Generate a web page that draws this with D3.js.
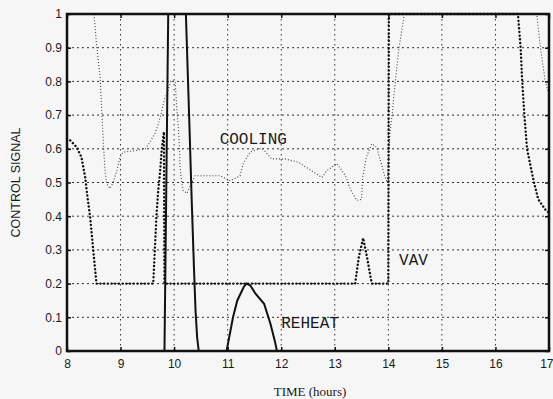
<!DOCTYPE html>
<html>
<head>
<meta charset="utf-8">
<script src="https://cdn.jsdelivr.net/npm/d3@7"></script>
<style>
  body { margin: 0; background: #f6f6f6; }
  svg { display: block; }
</style>
</head>
<body>
<div id="chart"></div>
<script>
// tick values and labels
var xTicks = [8, 9, 10, 11, 12, 13, 14, 15, 16, 17];
var yTicks = [0, 0.1, 0.2, 0.3, 0.4, 0.5, 0.6, 0.7, 0.8, 0.9, 1];
var yTickLabels = ["0", "0.1", "0.2", "0.3", "0.4", "0.5", "0.6", "0.7", "0.8", "0.9", "1"];

// REHEAT (solid line)
var reheatTime = [8, 9.82, 9.89, 10.22, 10.28, 10.33, 10.37, 10.4, 10.43, 10.46, 10.98, 11.1, 11.18, 11.3, 11.35, 11.42, 11.52, 11.68, 11.8, 11.88, 11.92, 17];
var reheatVal  = [0, 0, 1, 1, 0.7, 0.44, 0.25, 0.12, 0.04, 0, 0, 0.1, 0.15, 0.19, 0.2, 0.195, 0.17, 0.14, 0.08, 0.03, 0, 0];

// VAV (heavy dotted line)
var vavTime = [8, 8.06, 8.18, 8.27, 8.34, 8.38, 8.43, 8.49, 8.55, 9.61, 9.64, 9.67, 9.7, 9.74, 9.77, 9.81, 9.82, 13.38, 13.45, 13.53, 13.6, 13.69, 14.0, 14.01, 16.42, 16.47, 16.5, 16.54, 16.59, 16.68, 16.72, 16.8, 16.93, 17];
var vavVal  = [0.63, 0.625, 0.605, 0.575, 0.515, 0.46, 0.4, 0.3, 0.2, 0.2, 0.3, 0.4, 0.47, 0.535, 0.6, 0.65, 0.2, 0.2, 0.28, 0.335, 0.28, 0.2, 0.2, 1, 1, 0.9, 0.8, 0.7, 0.6, 0.53, 0.5, 0.45, 0.42, 0.41];

// COOLING (light dotted line)
var coolTime = [8, 8.5, 8.52, 8.55, 8.62, 8.65, 8.68, 8.71, 8.74, 8.8, 8.86, 8.93, 8.99, 9.05, 9.3, 9.46, 9.55, 9.64, 9.71, 9.77, 9.81, 9.94, 10.02, 10.05, 10.08, 10.1, 10.11, 10.14, 10.17, 10.24, 10.39, 10.86, 11.05, 11.23, 11.29, 11.42, 11.6, 11.66, 11.82, 12.07, 12.32, 12.76, 12.85, 13.04, 13.2, 13.29, 13.41, 13.5, 13.52, 13.59, 13.69, 13.78, 13.87, 13.93, 13.98, 14.0, 14.03, 14.07, 14.13, 14.2, 14.3, 16.77, 16.84, 16.93, 17];
var coolVal  = [1, 1, 0.97, 0.91, 0.81, 0.71, 0.615, 0.535, 0.497, 0.482, 0.5, 0.535, 0.575, 0.59, 0.595, 0.6, 0.62, 0.645, 0.675, 0.713, 0.74, 0.8, 0.8, 0.72, 0.66, 0.6, 0.545, 0.505, 0.476, 0.468, 0.52, 0.52, 0.505, 0.52, 0.556, 0.59, 0.6, 0.6, 0.57, 0.57, 0.56, 0.515, 0.535, 0.556, 0.52, 0.48, 0.447, 0.45, 0.515, 0.575, 0.615, 0.605, 0.555, 0.52, 0.5, 0.55, 0.65, 0.7, 0.8, 0.9, 1, 1, 0.9, 0.8, 0.76];

var W = 553, H = 399;
var margin = {top: 14, right: 4, bottom: 48, left: 67};
var width = W - margin.left - margin.right;
var height = H - margin.top - margin.bottom;

var x = d3.scaleLinear().domain([8, 17]).range([0, width]);
var y = d3.scaleLinear().domain([0, 1]).range([height, 0]);

function pairs(t, v) {
	return t.map(function (d, i) { return [d, v[i]]; });
}

var line = d3.line()
	.x(function (d) { return x(d[0]); })
	.y(function (d) { return y(d[1]); });

var svg = d3.select("#chart")
	.append("svg")
	.attr("width", W)
	.attr("height", H);

svg.append("rect")
	.attr("width", W)
	.attr("height", H)
	.attr("fill", "#f6f6f6");

var g = svg.append("g")
	.attr("transform", "translate(" + margin.left + "," + margin.top + ")");

// dotted grid
g.append("g")
	.selectAll("line")
	.data(yTicks.slice(1, -1))
	.enter().append("line")
	.attr("x1", 0).attr("x2", width)
	.attr("y1", function (d) { return y(d); })
	.attr("y2", function (d) { return y(d); })
	.attr("stroke", "#333")
	.attr("stroke-width", 1)
	.attr("stroke-dasharray", "2,3");

g.append("g")
	.selectAll("line")
	.data(xTicks.slice(1, -1))
	.enter().append("line")
	.attr("y1", 0).attr("y2", height)
	.attr("x1", function (d) { return x(d); })
	.attr("x2", function (d) { return x(d); })
	.attr("stroke", "#333")
	.attr("stroke-width", 1)
	.attr("stroke-dasharray", "1.5,3.5");

// series
g.append("path")
	.attr("d", line(pairs(coolTime, coolVal)))
	.attr("fill", "none")
	.attr("stroke", "#444")
	.attr("stroke-width", 1.1)
	.attr("stroke-dasharray", "1,2");

g.append("path")
	.attr("d", line(pairs(vavTime, vavVal)))
	.attr("fill", "none")
	.attr("stroke", "#111")
	.attr("stroke-width", 2.4)
	.attr("stroke-linecap", "round")
	.attr("stroke-dasharray", "0.1,3.6");

g.append("path")
	.attr("d", line(pairs(reheatTime, reheatVal)))
	.attr("fill", "none")
	.attr("stroke", "#111")
	.attr("stroke-width", 2);

// axes with inward ticks
var xAxis = d3.axisBottom(x).tickValues(xTicks).tickSizeInner(-4).tickSizeOuter(0).tickPadding(8)
	.tickFormat(d3.format("d"));
var yAxis = d3.axisLeft(y).tickValues(yTicks).tickSizeInner(-4).tickSizeOuter(0).tickPadding(5)
	.tickFormat(function (d, i) { return yTickLabels[i]; });

var gx = g.append("g")
	.attr("transform", "translate(0," + height + ")")
	.call(xAxis);
var gy = g.append("g").call(yAxis);

// last x label sits against the right edge
gx.selectAll(".tick text")
	.filter(function (d) { return d === 17; })
	.attr("text-anchor", "end")
	.attr("dx", "4px");

g.append("g")
	.call(d3.axisTop(x).tickValues(xTicks).tickSizeInner(-4).tickSizeOuter(0).tickFormat(""));
g.append("g")
	.attr("transform", "translate(" + width + ",0)")
	.call(d3.axisRight(y).tickValues(yTicks).tickSizeInner(-4).tickSizeOuter(0).tickFormat(""));

g.selectAll(".domain").remove();
g.selectAll(".tick line").attr("stroke", "#111").attr("stroke-width", 1.5);
g.selectAll(".tick text")
	.attr("fill", "#1a1a1a")
	.style("font-family", "'Liberation Sans', Arial, sans-serif")
	.style("font-size", "12px");

// frame
g.append("rect")
	.attr("width", width)
	.attr("height", height)
	.attr("fill", "none")
	.attr("stroke", "#111")
	.attr("stroke-width", 2.5);

// axis titles
svg.append("text")
	.attr("transform", "translate(20," + (margin.top + height / 2) + ") rotate(-90)")
	.attr("text-anchor", "middle")
	.attr("fill", "#1a1a1a")
	.style("font-family", "'Liberation Sans', Arial, sans-serif")
	.style("font-size", "12.5px")
	.text("CONTROL SIGNAL");

svg.append("text")
	.attr("x", margin.left + width / 2 + 2)
	.attr("y", 396)
	.attr("text-anchor", "middle")
	.attr("fill", "#1a1a1a")
	.style("font-family", "'Liberation Serif', 'Times New Roman', serif")
	.style("font-size", "13px")
	.text("TIME (hours)");

// series labels
var labels = [
	{text: "COOLING", t: 10.85, v: 0.615},
	{text: "VAV", t: 14.2, v: 0.255},
	{text: "REHEAT", t: 12.0, v: 0.068}
];
g.selectAll(".lab")
	.data(labels)
	.enter().append("text")
	.attr("x", function (d) { return x(d.t); })
	.attr("y", function (d) { return y(d.v); })
	.attr("fill", "#1a1a1a")
	.style("font-family", "'Liberation Mono', 'Courier New', monospace")
	.style("font-size", "16px")
	.text(function (d) { return d.text; });
</script>
</body>
</html>
